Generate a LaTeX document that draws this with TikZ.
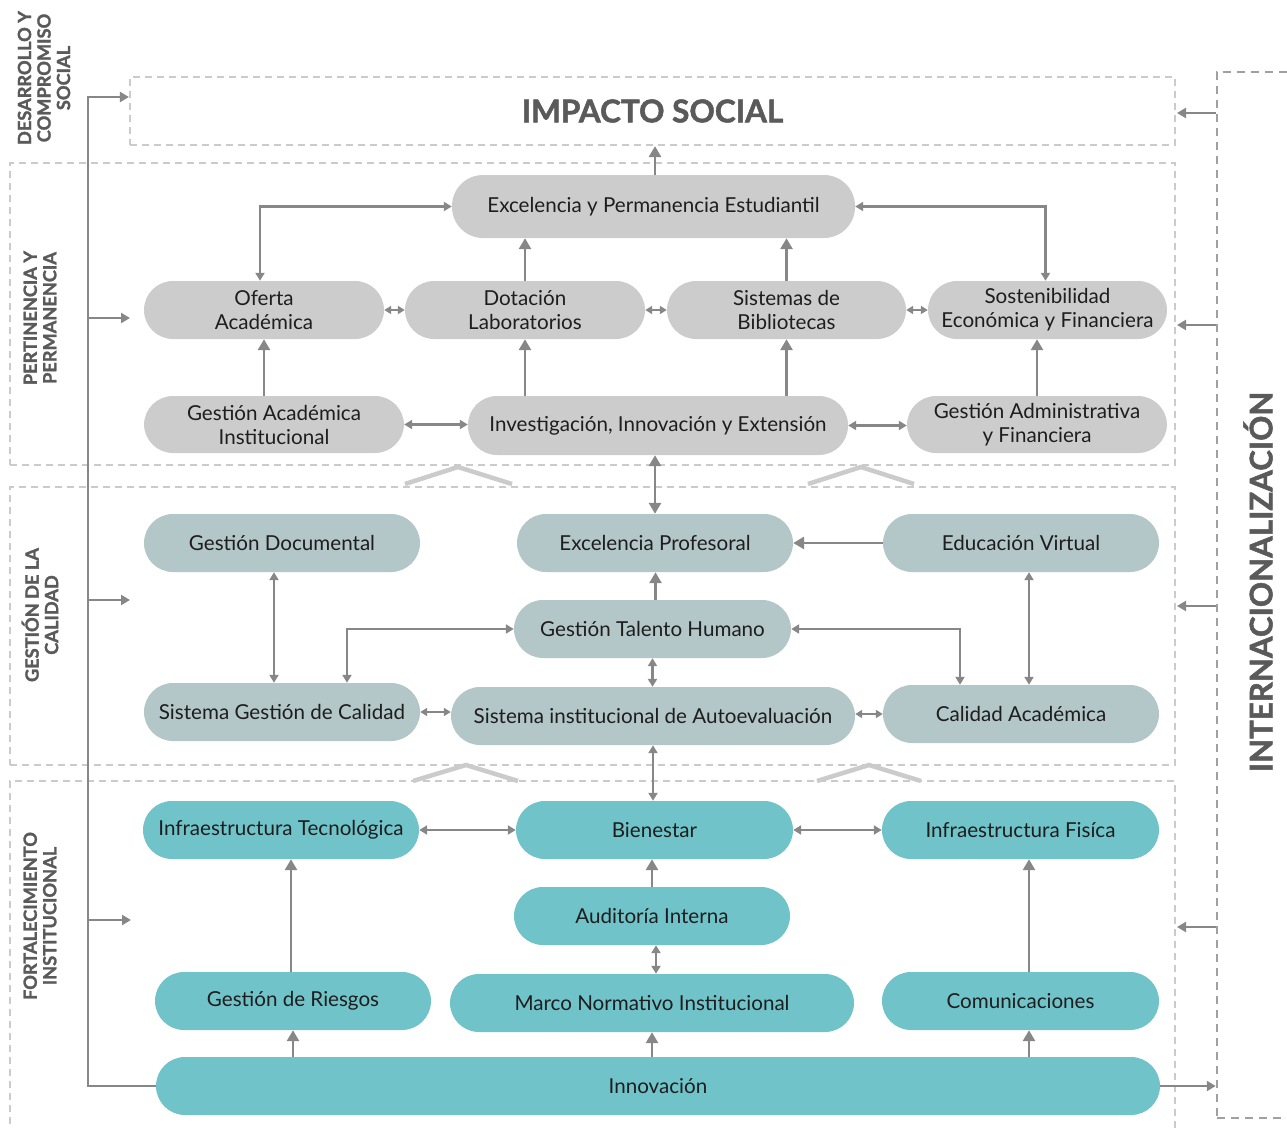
\documentclass[tikz,border=0pt]{standalone}
\usepackage{fontspec}
\setmainfont{Lato}
\newfontfamily\headfont{Lato}[BoldFeatures={FakeBold=1.6}]
\usetikzlibrary{arrows.meta}
\definecolor{fillA}{HTML}{CCCCCC}
\definecolor{fillB}{HTML}{B3C6C8}
\definecolor{fillC}{HTML}{70C3C9}
\definecolor{arrowgray}{HTML}{878787}
\definecolor{dashlight}{HTML}{CBCBCB}
\definecolor{dashdark}{HTML}{A0A0A0}
\definecolor{headgray}{HTML}{5A5A5A}
\definecolor{txt}{HTML}{1E1E1E}
\begin{document}
\begin{tikzpicture}[x=1pt,y=-1pt,
  pill/.style={rounded corners=29pt, minimum height=58pt, inner sep=0pt,
    align=center, text=txt, font=\fontsize{20.6}{24}\selectfont},
  pA/.style={pill, fill=fillA},
  pB/.style={pill, fill=fillB},
  pC/.style={pill, fill=fillC},
  frame/.style={draw=dashlight, line width=2.2pt, dash pattern=on 7pt off 5pt, inner sep=0pt},
  sectlabel/.style={rotate=90, align=center, text=headgray,
    font=\headfont\bfseries\fontsize{18.2}{19.5}\selectfont},
  big/.style={draw=arrowgray, line width=2.8pt, -{Triangle[length=11pt,width=12pt]}},
  bigboth/.style={draw=arrowgray, line width=2.8pt,
    {Triangle[length=11pt,width=12pt]}-{Triangle[length=11pt,width=12pt]}},
  midboth/.style={draw=arrowgray, line width=2.5pt,
    {Triangle[length=8pt,width=9pt]}-{Triangle[length=8pt,width=9pt]}},
  smallboth/.style={draw=arrowgray, line width=2.5pt,
    {Triangle[length=7pt,width=8pt]}-{Triangle[length=7pt,width=8pt]}},
  side/.style={draw=arrowgray, line width=2.5pt, -{Triangle[length=9pt,width=10pt]}},
  chevron/.style={draw=dashlight, line width=4.5pt}
]
\useasboundingbox (0,0) rectangle (1287,1129);

% ---- dashed section frames ----
\node[frame, minimum width=1045pt, minimum height=68pt, text=headgray,
  font=\headfont\bfseries\fontsize{31.5}{34}\selectfont] (imp) at (652.5,111) {IMPACTO SOCIAL};
\node[frame, minimum width=1165pt, minimum height=302pt] (secA) at (592.5,314) {};
\node[frame, minimum width=1165pt, minimum height=278pt] (secB) at (592.5,626) {};
\node[frame, minimum width=1165pt, minimum height=370pt] (secC) at (592.5,966) {};
\node[draw=dashdark, line width=2.5pt, dash pattern=on 8pt off 6pt, inner sep=0pt,
  minimum width=100pt, minimum height=1046pt] (intl) at (1267,595) {};

% ---- chevrons between the sections ----
\draw[chevron] (405,484) -- (458,467) -- (512,484);
\draw[chevron] (808,484) -- (861,467) -- (914,484);
\draw[chevron] (413,781) -- (466,765) -- (518,781);
\draw[chevron] (817,781) -- (869,765) -- (921,781);

% ---- side labels ----
\node[sectlabel] (lblDes) at (44,78) {DESARROLLO Y\\COMPROMISO\\SOCIAL};
\node[sectlabel] (lblPer) at (40,318) {PERTINENCIA Y\\PERMANENCIA};
\node[sectlabel] (lblGes) at (40,615) {GESTIÓN DE LA\\CALIDAD};
\node[sectlabel] (lblFor) at (40,916) {FORTALECIMIENTO\\INSTITUCIONAL};
\node[rotate=90, text=headgray, font=\headfont\bfseries\fontsize{31.2}{34}\selectfont]
  (lblInt) at (1258,582) {INTERNACIONALIZACIÓN};

% ---- pertinencia y permanencia ----
\node[pA, minimum width=403pt, minimum height=63pt, rounded corners=31pt] (eps) at (653.5,206.5) {Excelencia y Permanencia Estudiantil};
\node[pA, minimum width=240pt] (ofe) at (264,310) {Oferta\\Académica};
\node[pA, minimum width=240pt] (dot) at (525,310) {Dotación\\Laboratorios};
\node[pA, minimum width=239pt] (sis) at (786.5,310) {Sistemas de\\Bibliotecas};
\node[pA, minimum width=239pt] (sos) at (1047.5,310) {Sostenibilidad\\Económica y Financiera};
\node[pA, minimum width=260pt, minimum height=57pt] (gai) at (274,424.5) {Gestión Académica\\Institucional};
\node[pA, minimum width=380pt, minimum height=59pt] (iii) at (658,425.5) {Investigación, Innovación y Extensión};
\node[pA, minimum width=260pt, minimum height=57pt] (gaf) at (1037,424.5) {Gestión Administrativa\\y Financiera};

% ---- gestión de la calidad ----
\node[pB, minimum width=276pt] (gd) at (282,543) {Gestión Documental};
\node[pB, minimum width=276pt] (ep) at (655,543) {Excelencia Profesoral};
\node[pB, minimum width=276pt] (ev) at (1021,543) {Educación Virtual};
\node[pB, minimum width=277pt] (gth) at (652.5,629) {Gestión Talento Humano};
\node[pB, minimum width=276pt] (sgc) at (282,712) {Sistema Gestión de Calidad};
\node[pB, minimum width=404pt] (sia) at (653,716) {Sistema institucional de Autoevaluación};
\node[pB, minimum width=276pt] (ca) at (1021,714) {Calidad Académica};

% ---- fortalecimiento institucional ----
\node[pC, minimum width=276pt] (it) at (281,830) {Infraestructura Tecnológica};
\node[pC, minimum width=277pt] (bi) at (654.5,830) {Bienestar};
\node[pC, minimum width=277pt] (if) at (1020.5,830) {Infraestructura Fisíca};
\node[pC, minimum width=276pt] (ai) at (652,916) {Auditoría Interna};
\node[pC, minimum width=276pt] (gr) at (293,1001) {Gestión de Riesgos};
\node[pC, minimum width=404pt] (mn) at (652,1003) {Marco Normativo Institucional};
\node[pC, minimum width=277pt] (co) at (1020.5,1001) {Comunicaciones};
\node[pC, minimum width=1004pt] (inn) at (658,1086) {Innovación};

% ---- connectors: pertinencia y permanencia ----
\draw[midboth] ([xshift=-4pt]ofe.north) |- (eps.west);
\draw[midboth] ([xshift=-2pt]sos.north) |- (eps.east);
\draw[big] (dot.north) -- (dot.north |- eps.south);
\draw[big] (sis.north) -- (sis.north |- eps.south);
\draw[big] ([xshift=1.5pt]eps.north) -- ([xshift=1.5pt]eps.north |- imp.south);
\draw[smallboth] (ofe.east) -- (dot.west);
\draw[smallboth] (dot.east) -- (sis.west);
\draw[smallboth] (sis.east) -- (sos.west);
\draw[big] (gai.north -| ofe.south) -- (ofe.south);
\draw[big] (iii.north -| dot.south) -- (dot.south);
\draw[big] (iii.north -| sis.south) -- (sis.south);
\draw[big] (gaf.north) -- (gaf.north |- sos.south);
\draw[midboth] (gai.east) -- (gai.east -| iii.west);
\draw[midboth] (iii.east) -- (iii.east -| gaf.west);
\draw[bigboth] (ep.north |- iii.south) -- (ep.north);

% ---- connectors: gestión de la calidad ----
\draw[big] (ev.west) -- (ev.west -| ep.east);
\draw[big] ([xshift=3pt]gth.north) -- ([xshift=3pt]gth.north |- ep.south);
\draw[midboth] ([xshift=-8pt]gd.south) -- ([xshift=-8pt]gd.south |- sgc.north);
\draw[midboth] ([xshift=65pt]sgc.north) |- (gth.west);
\draw[midboth] (gth.east) -| ([xshift=-61pt]ca.north);
\draw[midboth] ([xshift=8pt]ev.south) -- ([xshift=8pt]ev.south |- ca.north);
\draw[midboth] (gth.south) -- (gth.south |- sia.north);
\draw[smallboth] (sgc.east) -- (sgc.east -| sia.west);
\draw[smallboth] ([yshift=2pt]sia.east) -- ([yshift=2pt]sia.east -| ca.west);
\draw[midboth] (sia.south) -- (sia.south |- bi.north);

% ---- connectors: fortalecimiento institucional ----
\draw[midboth] (it.east) -- (bi.west);
\draw[midboth] (bi.east) -- (if.west);
\draw[big] (ai.north) -- (ai.north |- bi.south);
\draw[midboth] ([xshift=4pt]ai.south) -- ([xshift=4pt]ai.south |- mn.north);
\draw[big] ([xshift=-2pt]gr.north) -- ([xshift=-2pt]gr.north |- it.south);
\coordinate (coTop) at ([xshift=8.5pt]co.north);
\coordinate (coBot) at ([xshift=8.5pt]co.south);
\draw[big] (coTop) -- (coTop |- if.south);
\draw[big] (inn.north -| gr.south) -- (gr.south);
\draw[big] (inn.north -| mn.south) -- (mn.south);
\draw[big] (inn.north -| coBot) -- (coBot);

% ---- side rails ----
\coordinate (railTop) at (88,97);
\coordinate (railA) at (88,318);  \coordinate (tipA) at (130,318);
\coordinate (railB) at (88,600);  \coordinate (tipB) at (130,600);
\coordinate (railC) at (88,920);  \coordinate (tipC) at (131,920);
\draw[side] (inn.west) -| (railTop) -- (railTop -| imp.west);
\draw[side] (railA) -- (tipA);
\draw[side] (railB) -- (tipB);
\draw[side] (railC) -- (tipC);

\coordinate (rIn1) at (1177,113); \coordinate (rIn2) at (1177,325);
\coordinate (rIn3) at (1177,606); \coordinate (rIn4) at (1177,927);
\draw[side] (intl.west |- rIn1) -- (rIn1);
\draw[side] (intl.west |- rIn2) -- (rIn2);
\draw[side] (intl.west |- rIn3) -- (rIn3);
\draw[side] (intl.west |- rIn4) -- (rIn4);
\draw[side] (inn.east) -- (inn.east -| intl.west);
\end{tikzpicture}
\end{document}
